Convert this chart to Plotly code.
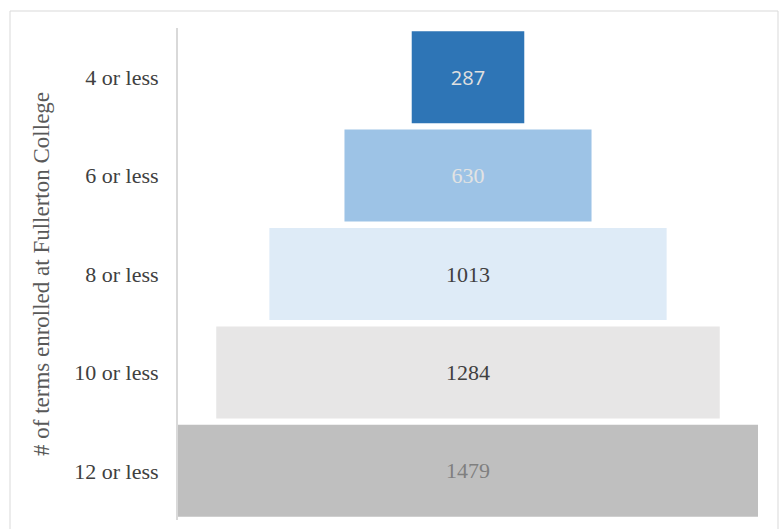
import plotly.graph_objects as go

categories = ["4 or less", "6 or less", "8 or less", "10 or less", "12 or less"]
values = [287, 630, 1013, 1284, 1479]
bar_colors = ["#2E75B6", "#9DC3E6", "#DEEBF7", "#E7E6E6", "#BFBFBF"]
text_colors = ["#E0E0E0", "#E3E3E3", "#404040", "#404040", "#7F7F7F"]
text_fonts = ["Open Sans", "Liberation Serif", "Liberation Serif", "Liberation Serif", "Liberation Serif"]
text_sizes = [20, 22, 22, 22, 22]
axis_title = "# of terms enrolled at Fullerton College"

fig = go.Figure(go.Funnel(
    y=categories,
    x=values,
    marker=dict(color=bar_colors, line=dict(width=0)),
    connector=dict(visible=False),
    textinfo="value",
    textposition="inside",
    textangle=0,
    constraintext="none",
    insidetextanchor="middle",
    textfont=dict(color=text_colors, family=text_fonts, size=text_sizes),
))

m = max(values)
W, H = 779, 529
L, R, T, B = 178, 21, 28, 9
pw, ph = W - L - R, H - T - B

def px(x):
    return (x - L) / pw

def py(y):
    return (H - B - y) / ph

fig.update_layout(
    width=W, height=H,
    margin=dict(l=L, r=R, t=T, b=B),
    paper_bgcolor="white", plot_bgcolor="white",
    showlegend=False,
    funnelgap=0.065,
    xaxis=dict(visible=False, range=[-m / 2, m / 2]),
    yaxis=dict(
        showline=True, linecolor="#D9D9D9", linewidth=2,
        showgrid=False, zeroline=False,
        ticks="", ticklabelstandoff=13,
        tickfont=dict(family="Liberation Serif", size=22, color="#404040"),
        title=dict(text=axis_title, standoff=18,
                   font=dict(family="Liberation Serif", size=23, color="#595959")),
    ),
    shapes=[dict(type="rect", xref="paper", yref="paper",
                 x0=px(10), x1=px(778), y0=py(540), y1=py(11),
                 line=dict(color="#D9D9D9", width=1), fillcolor="rgba(0,0,0,0)", layer="below")],
)

fig.write_html("out.html")
